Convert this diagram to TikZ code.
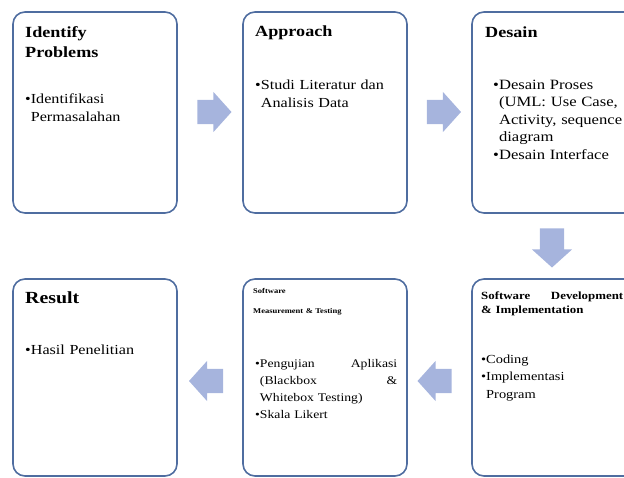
\documentclass[tikz,border=0pt]{standalone}
\usepackage{fontspec}
\setmainfont[FakeStretch=1.17]{Liberation Serif}
\usetikzlibrary{shapes.arrows}
\definecolor{BoxLine}{RGB}{79,109,160}
\definecolor{ArrowFill}{RGB}{166,180,221}
\newcommand{\bul}{\textbullet}

\begin{document}
\begin{tikzpicture}[x=1pt,y=-1pt,
    stage/.style={draw=BoxLine, line width=1.6pt, rounded corners=12pt, minimum width=164pt, minimum height=201pt, inner sep=0pt},
    stagelow/.style={stage, minimum height=197pt},
    blk/.style={single arrow, fill=ArrowFill, draw=none, inner xsep=0pt, inner ysep=12pt, single arrow head extend=8pt, single arrow tip angle=96, minimum height=34pt},
    ttl/.style={anchor=base west, align=left, inner sep=0pt, text width=150pt, font=\fontsize{15.5}{20}\selectfont\bfseries},
    txt/.style={anchor=base west, align=left, inner sep=0pt, text width=150pt, font=\fontsize{13.8}{18}\selectfont}]
  \clip (0,0) rectangle (624,477);
  % boxes
  \node[stage] (ident) at (95,112.5) {};
  \node[stage] (appr) at (325,112.5) {};
  \node[stage] (desain) at (554,112.5) {};
  \node[stagelow] (result) at (95,377.5) {};
  \node[stagelow] (testing) at (325,377.5) {};
  \node[stagelow] (devel) at (554,377.5) {};
  % texts
  \node[ttl] (identT) at (25,37) {Identify\\Problems};
  \node[txt] (identB) at (25,103) {\bul Identifikasi\\\phantom{\bul}Permasalahan};
  \node[ttl] (apprT) at (255,36) {Approach};
  \node[txt] (apprB) at (255,89) {\bul Studi Literatur dan\\\phantom{\bul}Analisis Data};
  \node[ttl] (desainT) at (485,37) {Desain};
  \node[txt, font=\fontsize{14.2}{17.5}\selectfont] (desainB) at (493,89) {\bul Desain Proses\\\phantom{\bul}(UML: Use Case,\\\phantom{\bul}Activity, sequence\\\phantom{\bul}diagram\\\bul Desain Interface};
  \node[ttl, font=\fontsize{17}{20}\selectfont\bfseries] (resultT) at (25,303) {Result};
  \node[txt] (resultB) at (25,354) {\bul Hasil Penelitian};
  \node[ttl, font=\fontsize{7.3}{20}\selectfont\bfseries] (testingT) at (253,293) {Software\\Measurement \& Testing};
  \node[txt, font=\fontsize{11.7}{17.3}\selectfont, text width=142pt] (testingB) at (255,367) {\bul Pengujian\hfill Aplikasi\\\phantom{\bul}(Blackbox\hfill\&\\\phantom{\bul}Whitebox Testing)\\\bul Skala Likert};
  \node[ttl, font=\fontsize{11}{14}\selectfont\bfseries, text width=142pt] (develT) at (481,299) {Software\hfill Development\\\& Implementation};
  \node[txt, font=\fontsize{12.3}{17.5}\selectfont] (develB) at (481,363) {\bul Coding\\\bul Implementasi\\\phantom{\bul}Program};
  % arrows
  \node[blk] (a1) at (209,112) {};
  \node[blk] (a2) at (438.5,112) {};
  \node[blk, rotate=-90, minimum height=39pt] (a3) at (552,242.5) {};
  \node[blk, rotate=180] (a4) at (211.5,381) {};
  \node[blk, rotate=180] (a5) at (440,381) {};
\end{tikzpicture}
\end{document}
